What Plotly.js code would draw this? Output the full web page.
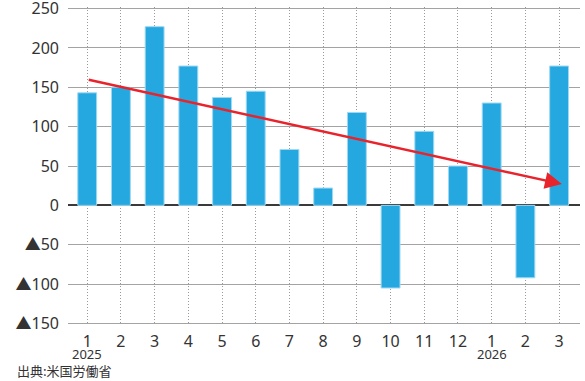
<!DOCTYPE html>
<html>
<head>
<meta charset="utf-8">
<script src="https://cdn.plot.ly/plotly-3.0.1.min.js"></script>
<style>
  html, body { margin: 0; padding: 0; background: #fff; }
  #chart { width: 585px; height: 381px; }
</style>
</head>
<body>
<div id="chart"></div>
<script>
// Monthly change (thousands), Jan 2025 – Mar 2026
const monthLabels = ['1','2','3','4','5','6','7','8','9','10','11','12','1','2','3'];
const changes = [143, 150, 227, 177, 137, 145, 71, 22, 118, -105, 94, 50, 130, -92, 177];
const yearLabels = ['2025', '2026'];
const yearAt = [1, 13];            // position of the first month of each year
const trendX = [1, 15.08];         // trend arrow: start and end positions
const trendY = [160, 27];          // trend arrow: start and end values
const yTickVals = [250, 200, 150, 100, 50, 0, -50, -100, -150];
const yTickText = ['250', '200', '150', '100', '50', '0', '▲50', '▲100', '▲150'];
const sourceText = '出典:米国労働省';

const xPos = monthLabels.map((_, i) => i + 1);

const numFont = 'Noto Sans, Open Sans, sans-serif';
const jpFont = 'Noto Sans CJK JP, Noto Sans, sans-serif';

// the triangle (negative sign) is set in the Japanese face so it keeps full width
const yTickHtml = yTickText.map(t =>
  t.replace('▲', '<span style="font-family:Noto Sans CJK JP">▲</span>'));

const bars = {
  type: 'bar',
  x: xPos,
  y: changes,
  width: 0.56,
  marker: { color: '#25a8e0', line: { color: '#9fd8f2', width: 1 } },
  hoverinfo: 'x+y'
};

// plot box: 7.4px top margin, 318px tall, y range padded by 2 units each side
const H = 318;
const paperY = px => -(px - (7.4 + H)) / H;   // pixel row below the plot -> paper y

const annotations = [];
yearLabels.forEach((t, i) => {
  annotations.push({
    text: t, xref: 'x', yref: 'paper', x: yearAt[i], y: paperY(354),
    xanchor: 'center', yanchor: 'middle', showarrow: false,
    font: { family: numFont, size: 13, color: '#333' }
  });
});
annotations.push({
  text: sourceText, xref: 'paper', yref: 'paper', x: -0.104, y: paperY(371),
  xanchor: 'left', yanchor: 'middle', showarrow: false,
  font: { family: jpFont, size: 13, color: '#333' }
});
// trend arrow drawn in data coordinates
annotations.push({
  text: '', xref: 'x', yref: 'y', axref: 'x', ayref: 'y',
  x: trendX[1], y: trendY[1], ax: trendX[0], ay: trendY[0],
  showarrow: true, arrowhead: 2, arrowsize: 1.4, arrowwidth: 2.4,
  arrowcolor: '#e8232b', standoff: 0, startstandoff: 0
});

const layout = {
  width: 585, height: 381,
  margin: { l: 68, r: 5, t: 7.4, b: 381 - 7.4 - H },
  paper_bgcolor: '#fff', plot_bgcolor: '#fff',
  showlegend: false,
  bargap: 0,
  xaxis: {
    range: [0.43, 15.62],
    tickmode: 'array', tickvals: xPos, ticktext: monthLabels,
    ticks: '', showline: false, zeroline: false,
    showgrid: true, gridcolor: '#9a9a9a', gridwidth: 1, griddash: '1px,2px',
    tickfont: { family: numFont, size: 16, color: '#333' },
    ticklabelstandoff: 5,
    ticklabeloverflow: 'allow',
    fixedrange: true
  },
  yaxis: {
    range: [-152, 252],
    tickmode: 'array', tickvals: yTickVals, ticktext: yTickHtml,
    ticks: '', showline: false,
    showgrid: true, gridcolor: '#a3a3a3', gridwidth: 1,
    zeroline: true, zerolinecolor: '#3a3a3a', zerolinewidth: 2,
    tickfont: { family: numFont, size: 16, color: '#333' },
    ticklabelstandoff: 8,
    ticklabeloverflow: 'allow',
    fixedrange: true
  },
  annotations: annotations
};

Plotly.newPlot('chart', [bars], layout, { displayModeBar: false, staticPlot: true });
</script>
</body>
</html>
